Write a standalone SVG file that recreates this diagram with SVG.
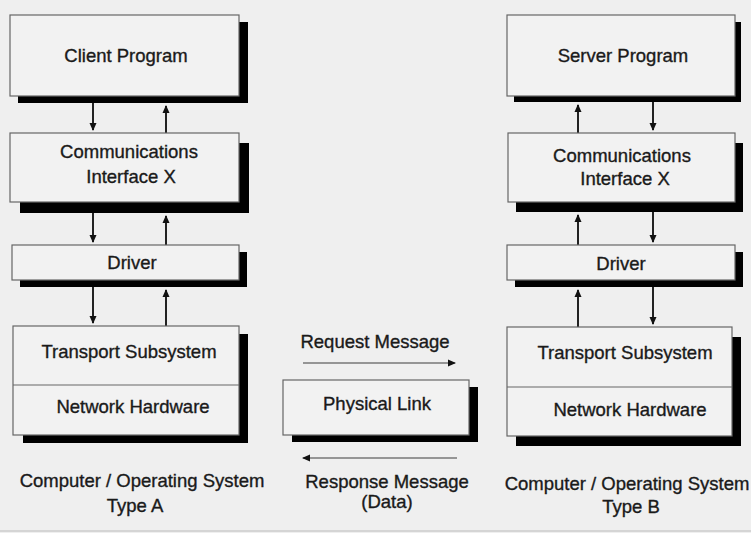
<svg xmlns="http://www.w3.org/2000/svg" width="751" height="533" viewBox="0 0 751 533">
<defs>
<style>
.box{fill:#f2f2f2;stroke:#666;stroke-width:1.2}
.sh{fill:#000}
.t{font-family:"Liberation Sans",Arial,sans-serif;font-size:18.5px;fill:#1a1a1a;stroke:#1a1a1a;stroke-width:0.35;text-anchor:middle}
.c{stroke:#222;stroke-width:2;fill:none}
.m{stroke:#777;stroke-width:1.5;fill:none}
</style>
<marker id="ah" markerUnits="userSpaceOnUse" markerWidth="8" markerHeight="8" refX="7" refY="4" orient="auto">
<path d="M0,0.5 L8,4 L0,7.5 z" fill="#111"/>
</marker>
</defs>
<rect width="751" height="533" fill="#efefef"/>
<line x1="0" y1="531" x2="751" y2="531" stroke="#bbb" stroke-width="1"/>

<g id="connectors">
<line class="c" x1="93" y1="103" x2="93" y2="130" marker-end="url(#ah)"/>
<line class="c" x1="166" y1="133" x2="166" y2="106" marker-end="url(#ah)"/>
<line class="c" x1="93" y1="213" x2="93" y2="242" marker-end="url(#ah)"/>
<line class="c" x1="166" y1="245" x2="166" y2="216" marker-end="url(#ah)"/>
<line class="c" x1="93" y1="287" x2="93" y2="323" marker-end="url(#ah)"/>
<line class="c" x1="166" y1="326" x2="166" y2="290" marker-end="url(#ah)"/>
<line class="c" x1="578" y1="133" x2="578" y2="105" marker-end="url(#ah)"/>
<line class="c" x1="653" y1="102" x2="653" y2="130" marker-end="url(#ah)"/>
<line class="c" x1="578" y1="245" x2="578" y2="215" marker-end="url(#ah)"/>
<line class="c" x1="653" y1="212" x2="653" y2="242" marker-end="url(#ah)"/>
<line class="c" x1="578" y1="327" x2="578" y2="290" marker-end="url(#ah)"/>
<line class="c" x1="653" y1="287" x2="653" y2="324" marker-end="url(#ah)"/>
<line class="m" x1="303" y1="363" x2="455" y2="363" marker-end="url(#ah)"/>
<line class="m" x1="457" y1="458" x2="303" y2="458" marker-end="url(#ah)"/>
</g>

<g id="client-program">
<rect class="sh" x="18" y="22" width="230" height="81"/>
<rect class="box" x="10" y="15" width="229" height="81"/>
<text class="t" x="126" y="62">Client Program</text>
</g>
<g id="comm-a">
<rect class="sh" x="20" y="143" width="229" height="70"/>
<rect class="box" x="10" y="133" width="229" height="69"/>
<text class="t" x="129" y="158">Communications</text>
<text class="t" x="131" y="183">Interface X</text>
</g>
<g id="driver-a">
<rect class="sh" x="20" y="252" width="227" height="35"/>
<rect class="box" x="12" y="245" width="227" height="35"/>
<text class="t" x="132" y="269">Driver</text>
</g>
<g id="transport-a">
<rect class="sh" x="23" y="334" width="225" height="109"/>
<rect class="box" x="13" y="326" width="226" height="109"/>
<line x1="13" y1="385" x2="239" y2="385" stroke="#666" stroke-width="1.2"/>
<text class="t" x="129" y="358">Transport Subsystem</text>
<text class="t" x="133" y="413">Network Hardware</text>
</g>
<g id="label-a">
<text class="t" x="142" y="487">Computer / Operating System</text>
<text class="t" x="135" y="512">Type A</text>
</g>

<g id="physical-link">
<rect class="sh" x="292" y="387" width="186" height="55"/>
<rect class="box" x="283" y="380" width="186" height="55"/>
<text class="t" x="377" y="410">Physical Link</text>
</g>
<g id="request-label">
<text class="t" x="375" y="348">Request Message</text>
</g>
<g id="response-label">
<text class="t" x="387" y="488">Response Message</text>
<text class="t" x="387" y="508">(Data)</text>
</g>

<g id="server-program">
<rect class="sh" x="514" y="22" width="227" height="80"/>
<rect class="box" x="507" y="15" width="228" height="81"/>
<text class="t" x="623" y="62">Server Program</text>
</g>
<g id="comm-b">
<rect class="sh" x="516" y="143" width="227" height="69"/>
<rect class="box" x="508" y="133" width="227" height="69"/>
<text class="t" x="622" y="162">Communications</text>
<text class="t" x="625" y="185">Interface X</text>
</g>
<g id="driver-b">
<rect class="sh" x="515" y="252" width="228" height="35"/>
<rect class="box" x="507" y="245" width="228" height="35"/>
<text class="t" x="621" y="270">Driver</text>
</g>
<g id="transport-b">
<rect class="sh" x="516" y="337" width="225" height="109"/>
<rect class="box" x="507" y="327" width="225" height="109"/>
<line x1="507" y1="387" x2="732" y2="387" stroke="#666" stroke-width="1.2"/>
<text class="t" x="625" y="359">Transport Subsystem</text>
<text class="t" x="630" y="416">Network Hardware</text>
</g>
<g id="label-b">
<text class="t" x="627" y="490">Computer / Operating System</text>
<text class="t" x="631" y="513">Type B</text>
</g>
</svg>
